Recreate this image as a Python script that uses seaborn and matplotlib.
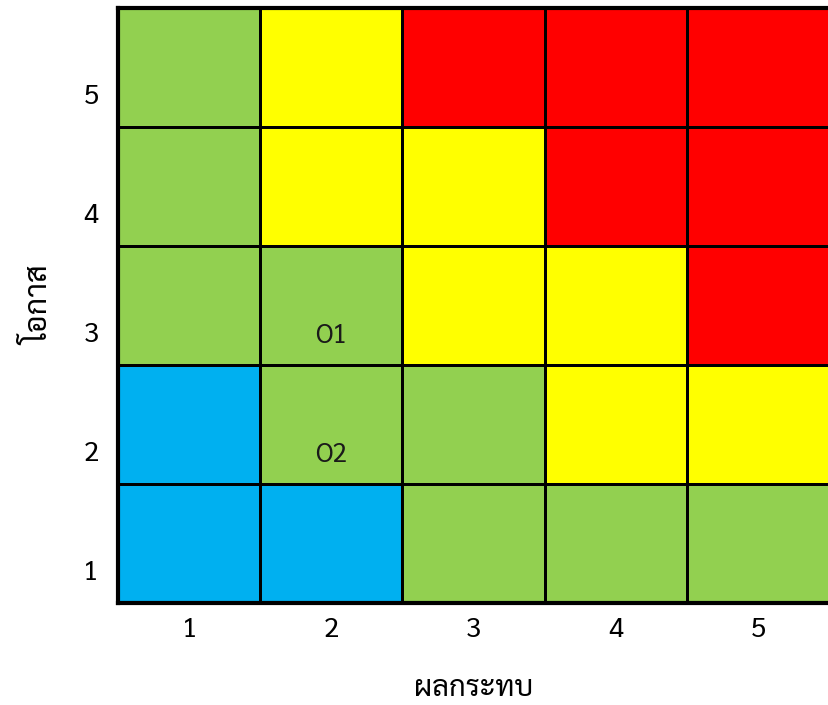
import matplotlib
matplotlib.use("Agg")
import matplotlib.pyplot as plt
import seaborn as sns
import numpy as np
import pandas as pd
from matplotlib.colors import ListedColormap

sns.set_theme(style="white")
plt.rcParams['font.family'] = ['Sarabun', 'DejaVu Sans']

impact = [1, 2, 3, 4, 5]          # x categories (ผลกระทบ)
likelihood = [5, 4, 3, 2, 1]      # y categories top->bottom (โอกาส)
# 0 = blue, 1 = green, 2 = yellow, 3 = red
levels = [
    [1, 2, 3, 3, 3],
    [1, 2, 2, 3, 3],
    [1, 1, 2, 2, 3],
    [0, 1, 1, 2, 2],
    [0, 0, 1, 1, 1],
]
annotations = {(3, 2): "O1", (2, 2): "O2"}  # (likelihood, impact): label
palette = ["#00B0F0", "#92D050", "#FFFF00", "#FF0000"]

df = pd.DataFrame(levels, index=likelihood, columns=impact)

fig = plt.figure(figsize=(8.29, 7.05), dpi=100)
ax = fig.add_axes([118/829, 1 - 603/705, 711/829, 595/705])
sns.heatmap(df, cmap=ListedColormap(palette), vmin=-0.5, vmax=3.5, cbar=False,
            linewidths=2.0, linecolor="black", ax=ax)

for (lk, im), txt in annotations.items():
    r = likelihood.index(lk)
    c = impact.index(im)
    ax.text(c + 0.5, r + 0.76, txt, ha="center", va="center", fontsize=19,
            color="#1a1a1a")

ax.set_xticks([i + 0.5 for i in range(len(impact))])
ax.set_xticklabels([str(v) for v in impact], fontsize=20, color="black")
ax.set_yticks([i + 0.75 for i in range(len(likelihood))])
ax.set_yticklabels([str(v) for v in likelihood], fontsize=20, rotation=0,
                   color="black")
ax.tick_params(axis="x", length=0, pad=10)
ax.tick_params(axis="y", length=0, pad=14)
ax.set_xlabel("ผลกระทบ", fontsize=21, labelpad=22, color="black")
ax.set_ylabel("โอกาส", fontsize=22, labelpad=20, color="black")
for side in ["left", "top", "bottom"]:
    ax.spines[side].set_visible(True)
    ax.spines[side].set_color("black")
    ax.spines[side].set_linewidth(3)
ax.spines["right"].set_visible(False)

fig.savefig("out.png", dpi=100)
